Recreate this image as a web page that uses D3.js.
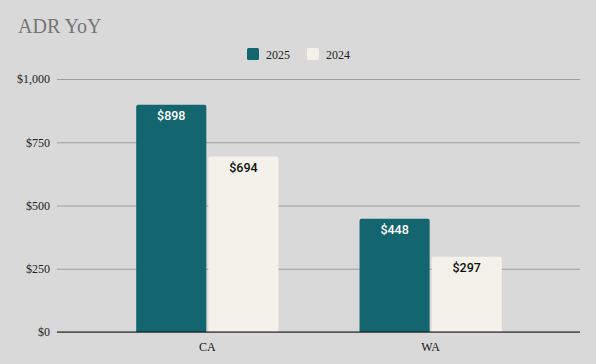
<!DOCTYPE html>
<html><head><meta charset="utf-8">
<script src="https://cdn.jsdelivr.net/npm/d3@7"></script>
<style>body{margin:0;background:#d9d9d9}svg{display:block}</style>
</head><body>
<svg id="c" width="596" height="364"></svg>
<script>
const categories = ["CA", "WA"];
const seriesNames = ["2025", "2024"];
const values2025 = [898, 448];
const values2024 = [694, 297];
const yTicks = [0, 250, 500, 750, 1000];
const chartTitle = "ADR YoY";

(function () {
const colors = {"2025": "#136570", "2024": "#f4f1ea"};
const serif = "'Liberation Serif','DejaVu Serif',serif";
const sans = "Roboto,'Noto Sans',sans-serif";
const W = 596, H = 364;
const mLeft = 57, mRight = 580, mTop = 79, mBottom = 332;

const svg = d3.select("#c");
svg.append("rect").attr("width", W).attr("height", H).attr("fill", "#d9d9d9");

svg.append("text").attr("x", 18).attr("y", 33).text(chartTitle)
  .attr("font-family", serif).attr("font-size", 20).attr("fill", "#757575");

const y = d3.scaleLinear().domain([0, 1000]).range([mBottom, mTop]);
const x0 = d3.scaleBand().domain(categories).range([96, 542]).paddingInner(0.363).paddingOuter(0.18);
const x1 = d3.scaleBand().domain(seriesNames).range([0, x0.bandwidth()]).paddingInner(0.028);

const yAxis = d3.axisLeft(y).tickValues(yTicks).tickSize(-(mRight - mLeft)).tickFormat(d => "$" + d3.format(",")(d));
const gy = svg.append("g").attr("transform", `translate(${mLeft},0)`).call(yAxis);
gy.select(".domain").remove();
gy.selectAll(".tick line").attr("stroke", "#9e9e9e").attr("stroke-width", 1);
gy.selectAll(".tick text").attr("x", -7).attr("font-family", serif).attr("font-size", 12).attr("fill", "#222");

const data = categories.map((c, i) => ({cat: c, vals: [{s: "2025", v: values2025[i]}, {s: "2024", v: values2024[i]}]}));

function topRounded(xp, yp, w, h, r) {
  return `M${xp},${yp + h}V${yp + r}Q${xp},${yp} ${xp + r},${yp}H${xp + w - r}Q${xp + w},${yp} ${xp + w},${yp + r}V${yp + h}Z`;
}

const g = svg.selectAll("g.cat").data(data).join("g").attr("class", "cat")
  .attr("transform", d => `translate(${x0(d.cat)},0)`);
g.selectAll("path").data(d => d.vals).join("path")
  .attr("d", d => topRounded(x1(d.s), y(d.v), x1.bandwidth(), mBottom - y(d.v), 2))
  .attr("fill", d => colors[d.s]);
g.selectAll("text").data(d => d.vals).join("text")
  .attr("x", d => x1(d.s) + x1.bandwidth() / 2)
  .attr("y", d => y(d.v) + 15.5)
  .attr("text-anchor", "middle")
  .attr("font-family", sans).attr("font-size", 12.5).attr("font-weight", 500)
  .attr("fill", d => d.s === "2025" ? "#ffffff" : "#111")
  .text(d => "$" + d.v);

svg.append("line").attr("x1", mLeft).attr("x2", mRight).attr("y1", mBottom).attr("y2", mBottom)
  .attr("stroke", "#111").attr("stroke-width", 1);

const xAxis = d3.axisBottom(x0).tickSize(0).tickPadding(10);
const gx = svg.append("g").attr("transform", `translate(0,${mBottom})`).call(xAxis);
gx.select(".domain").remove();
gx.selectAll("text").attr("font-family", serif).attr("font-size", 12).attr("fill", "#111");

const leg = [{s: "2025", x: 247}, {s: "2024", x: 307}];
const lg = svg.selectAll("g.leg").data(leg).join("g").attr("class", "leg");
lg.append("rect").attr("x", d => d.x).attr("y", 48).attr("width", 12).attr("height", 12).attr("rx", 1.5)
  .attr("fill", d => colors[d.s]);
lg.append("text").attr("x", d => d.x + 19).attr("y", 58.5).text(d => d.s)
  .attr("font-family", serif).attr("font-size", 12).attr("fill", "#222");
})();
</script>
</body></html>
